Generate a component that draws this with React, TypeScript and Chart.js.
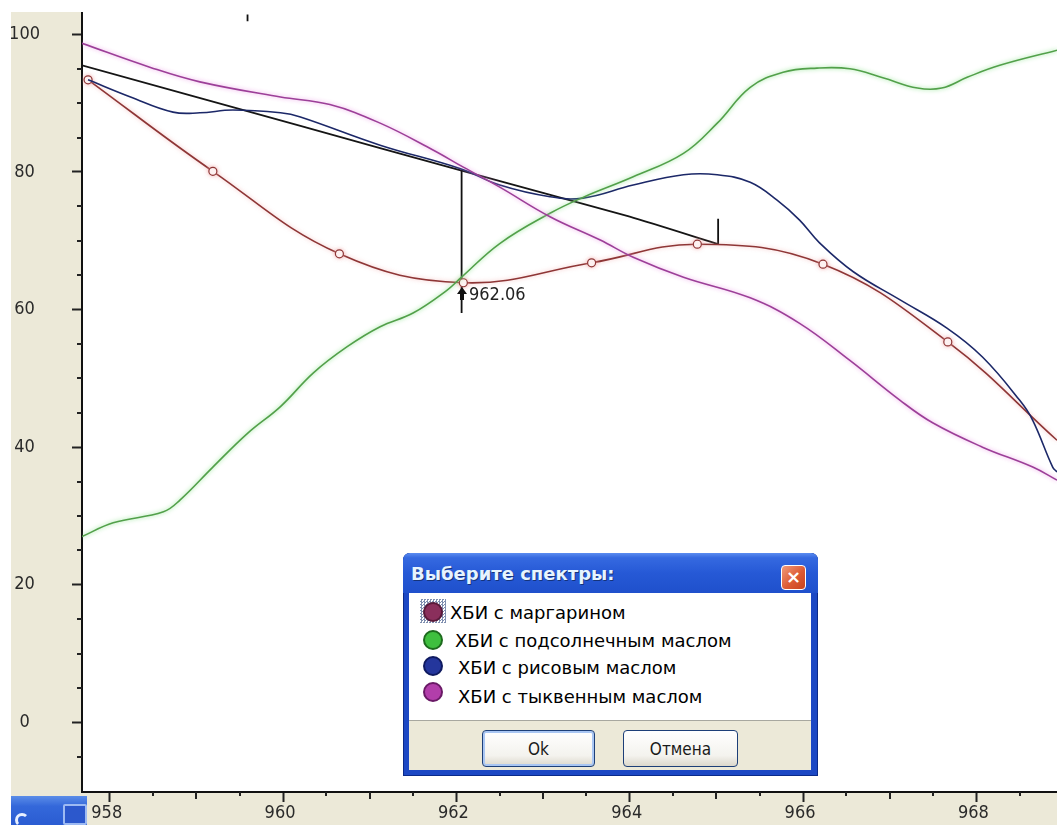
import React, { useEffect, useRef } from "react";
import { Chart, registerables } from "chart.js";

Chart.register(...registerables);

// ---------- axis ranges & ticks ----------
const xMin = 957.68;
const xMax = 968.93;
const yMin = -10.13;
const yMax = 105.0;
const xMajorTicks = [958, 960, 962, 964, 966, 968];
const xMinorTicks = [958.5, 959, 959.5, 960.5, 961, 961.5, 962.5, 963, 963.5, 964.5, 965, 965.5, 966.5, 967, 967.5, 968.5];
const yMajorTicks = [0, 20, 40, 60, 80, 100];
const yMinorTicks = [-5, 5, 10, 15, 25, 30, 35, 45, 50, 55, 65, 70, 75, 85, 90, 95];

// ---------- series ----------
const seriesNames = [
  "ХБИ с маргарином",
  "ХБИ с подсолнечным маслом",
  "ХБИ с рисовым маслом",
  "ХБИ с тыквенным маслом",
];

const margarineX = [957.75, 959.19, 960.65, 962.08, 963.56, 964.78, 966.23, 967.67, 968.93];
const margarineY = [93.4, 80.1, 68.1, 63.9, 66.8, 69.5, 66.6, 55.3, 41.0];

const sunflowerX = [957.68, 958.04, 958.62, 958.81, 959.19, 959.59, 959.97, 960.35, 960.74, 961.12, 961.5, 961.89, 962.05, 962.5, 963.08, 963.46, 964.04, 964.62, 965.01, 965.39, 965.77, 966.16, 966.54, 966.92, 967.32, 967.6, 967.9, 968.27, 968.93];
const sunflowerY = [27.0, 29.0, 30.6, 32.3, 37.1, 42.0, 45.9, 50.8, 54.6, 57.5, 59.5, 62.8, 64.6, 69.6, 74.0, 76.3, 79.3, 82.7, 87.1, 92.3, 94.5, 95.1, 95.0, 93.7, 92.2, 92.2, 93.8, 95.5, 97.7];

const riceX = [957.75, 958.24, 958.73, 959.04, 959.42, 959.97, 960.2, 961.12, 962.04, 962.5, 963.08, 963.46, 964.04, 964.62, 965.01, 965.39, 965.7, 965.96, 966.19, 966.58, 967.12, 967.66, 968.07, 968.5, 968.65, 968.88, 968.93];
const riceY = [93.4, 90.9, 88.7, 88.6, 89.0, 88.6, 88.0, 83.9, 80.5, 78.1, 76.4, 76.2, 78.1, 79.6, 79.6, 78.5, 75.9, 73.0, 69.7, 65.5, 61.4, 57.3, 53.1, 46.8, 43.9, 37.1, 36.4];

const pumpkinX = [957.68, 958.47, 959.04, 959.97, 960.54, 961.12, 961.73, 962.08, 962.5, 963.08, 963.66, 964.04, 964.62, 965.39, 965.96, 966.54, 967.12, 967.5, 968.07, 968.65, 968.93];
const pumpkinY = [98.7, 95.2, 93.1, 90.9, 89.8, 87.1, 83.2, 80.7, 77.8, 73.5, 70.1, 67.6, 64.7, 61.7, 58.0, 52.6, 46.8, 43.5, 40.0, 37.1, 35.2];

// black guide line and cursor marks
const guideX = [957.68, 960.2, 962.06, 964.0, 965.02];
const guideY = [95.5, 86.7, 80.2, 73.5, 69.5];
const cursorX = [962.06, 962.06];
const cursorY = [80.2, 59.5];
const endMarkX = [965.02, 965.02];
const endMarkY = [73.2, 69.5];
const topMarkX = [959.59, 959.59];
const topMarkY = [102.9, 101.9];
const cursorLabel = "962.06";
const cursorLabelValue = 962.06;
const cursorLabelY = 62.1;

const tickFont = "'DejaVu Sans Condensed', 'Liberation Sans Narrow', 'DejaVu Sans', sans-serif";

const pts = (xs: number[], ys: number[]) => xs.map((x, i) => ({ x, y: ys[i] }));

const bgPlugin = {
  id: "bgPlugin",
  beforeDraw(chart: any) {
    const { ctx, chartArea: ca, width, height } = chart;
    ctx.save();
    ctx.fillStyle = "#ffffff";
    ctx.fillRect(0, 0, width, height);
    ctx.fillStyle = "#ece9d8";
    ctx.fillRect(11, 12, ca.left - 11, height - 12);
    ctx.fillRect(ca.left, ca.bottom, width - ca.left, height - ca.bottom);
    ctx.restore();
  },
  beforeDatasetDraw(chart: any, args: any) {
    const ds = chart.data.datasets[args.index];
    if (ds.glow) {
      chart.ctx.save();
      chart.ctx.shadowColor = ds.glow;
      chart.ctx.shadowBlur = 4;
    }
  },
  afterDatasetDraw(chart: any, args: any) {
    const ds = chart.data.datasets[args.index];
    if (ds.glow) chart.ctx.restore();
  },
  afterDraw(chart: any) {
    const { ctx, chartArea: ca } = chart;
    const xs = chart.scales.x;
    const ys = chart.scales.y;
    ctx.save();
    ctx.strokeStyle = "#222";
    ctx.lineWidth = 2;
    yMinorTicks.forEach((v) => {
      const py = Math.round(ys.getPixelForValue(v));
      ctx.beginPath();
      ctx.moveTo(ca.left - 5, py);
      ctx.lineTo(ca.left, py);
      ctx.stroke();
    });
    xMinorTicks.forEach((v) => {
      const px = Math.round(xs.getPixelForValue(v));
      const len = Number.isInteger(v) ? 7 : 4;
      ctx.beginPath();
      ctx.moveTo(px, ca.bottom);
      ctx.lineTo(px, ca.bottom + len);
      ctx.stroke();
    });
    // white corner above the axis
    ctx.fillStyle = "#ffffff";
    ctx.fillRect(0, 0, ca.left + 2, 12);
    // cursor icon + label
    const cx = Math.round(xs.getPixelForValue(cursorLabelValue));
    const cy = ys.getPixelForValue(cursorLabelY);
    const top = cy - 8;
    ctx.fillStyle = "#111";
    ctx.beginPath();
    ctx.moveTo(cx, top);
    ctx.lineTo(cx - 5, top + 7);
    ctx.lineTo(cx - 2, top + 7);
    ctx.lineTo(cx - 2, top + 13);
    ctx.lineTo(cx + 2, top + 13);
    ctx.lineTo(cx + 2, top + 7);
    ctx.lineTo(cx + 5, top + 7);
    ctx.closePath();
    ctx.fill();
    ctx.font = `18px ${tickFont}`;
    ctx.fillStyle = "#222";
    ctx.textBaseline = "middle";
    ctx.textAlign = "left";
    ctx.fillText(cursorLabel, cx + 7, cy);
    ctx.restore();
  },
};

function ChartCanvas() {
  const ref = useRef<HTMLCanvasElement>(null);
  useEffect(() => {
    const lineBase = { pointRadius: 0, tension: 0.4, borderWidth: 1.6, fill: false };
    const chart = new Chart(ref.current as HTMLCanvasElement, {
      type: "line",
      data: {
        datasets: [
          {
            ...lineBase,
            label: seriesNames[3],
            data: pts(pumpkinX, pumpkinY),
            borderColor: "#9c3f98",
            glow: "rgba(235,150,230,0.9)",
          } as any,
          {
            ...lineBase,
            label: seriesNames[1],
            data: pts(sunflowerX, sunflowerY),
            borderColor: "#52a04a",
            glow: "rgba(130,225,130,0.9)",
          } as any,
          {
            ...lineBase,
            label: seriesNames[2],
            data: pts(riceX, riceY),
            borderColor: "#1c2868",
          } as any,
          {
            ...lineBase,
            label: seriesNames[0],
            data: pts(margarineX, margarineY),
            borderColor: "#8e3636",
            glow: "rgba(240,160,160,0.7)",
            pointRadius: (c: any) => (c.dataIndex < margarineX.length - 1 ? 4 : 0),
            pointBackgroundColor: "#ffffff",
            pointBorderColor: "#8e3636",
            pointBorderWidth: 1.2,
          } as any,
          {
            ...lineBase,
            label: "guide",
            data: pts(guideX, guideY),
            borderColor: "#151515",
            tension: 0.2,
            borderWidth: 1.8,
          } as any,
          { ...lineBase, label: "cursor", data: pts(cursorX, cursorY), borderColor: "#111", borderWidth: 1.8, tension: 0 } as any,
          { ...lineBase, label: "end", data: pts(endMarkX, endMarkY), borderColor: "#111", borderWidth: 1.8, tension: 0 } as any,
          { ...lineBase, label: "top", data: pts(topMarkX, topMarkY), borderColor: "#111", borderWidth: 1.8, tension: 0 } as any,
        ],
      },
      options: {
        responsive: false,
        animation: false,
        devicePixelRatio: 1,
        layout: { autoPadding: false, padding: { left: 11, top: 0, right: 0, bottom: 0 } },
        plugins: { legend: { display: false }, tooltip: { enabled: false } },
        events: [],
        scales: {
          x: {
            type: "linear",
            position: "bottom",
            min: xMin,
            max: xMax,
            afterBuildTicks: (s: any) => {
              s.ticks = xMajorTicks.map((v) => ({ value: v }));
            },
            afterFit: (s: any) => {
              s.height = 33;
              s.paddingLeft = 0;
              s.paddingRight = 0;
            },
            grid: { display: true, drawOnChartArea: false, drawTicks: true, tickLength: 10, tickWidth: 2, tickColor: "#222", color: "#222" },
            border: { display: true, color: "#111", width: 2 },
            ticks: {
              font: { family: tickFont, size: 18 },
              color: "#2a2a2a",
              padding: 1,
              labelOffset: -3,
              maxRotation: 0,
              autoSkip: false,
              callback: (v: any) => String(v),
            },
          },
          y: {
            type: "linear",
            position: "left",
            min: yMin,
            max: yMax,
            afterBuildTicks: (s: any) => {
              s.ticks = yMajorTicks.map((v) => ({ value: v }));
            },
            afterFit: (s: any) => {
              s.width = 71;
              s.paddingTop = 0;
              s.paddingBottom = 0;
            },
            grid: { display: true, drawOnChartArea: false, drawTicks: true, tickLength: 10, tickWidth: 2, tickColor: "#222", color: "#222" },
            border: { display: true, color: "#111", width: 2 },
            ticks: {
              font: { family: tickFont, size: 18 },
              color: "#2a2a2a",
              crossAlign: "center",
              padding: 32,
              autoSkip: false,
              callback: (v: any) => String(v),
            },
          },
        },
      } as any,
      plugins: [bgPlugin],
    });
    return () => chart.destroy();
  }, []);
  return (
    <canvas
      ref={ref}
      width={1057}
      height={825}
      style={{ position: "absolute", left: 0, top: 0, width: 1057, height: 825 }}
    />
  );
}

const legendColors = [
  { fill: "#8a2f5c", stroke: "#5a1a3a" },
  { fill: "#3fbf3f", stroke: "#1d6a1d" },
  { fill: "#24369c", stroke: "#0f1a60" },
  { fill: "#b23eaa", stroke: "#6a1a66" },
];
const legendIconY = [18.5, 47, 73, 99];
const legendTextY = [20, 48, 75, 104];
const legendTextX = [41, 46, 49, 49];

function Dialog() {
  const btn: React.CSSProperties = {
    position: "absolute",
    top: 137,
    height: 37,
    boxSizing: "border-box",
    border: "1px solid #1d3f78",
    borderRadius: 4,
    background: "linear-gradient(#ffffff, #f4f3ee 70%, #dcd8cc)",
    fontFamily: tickFont,
    fontSize: 17,
    color: "#1a1a1a",
    display: "flex",
    alignItems: "center",
    justifyContent: "center",
  };
  return (
    <div
      style={{
        position: "absolute",
        left: 403,
        top: 553,
        width: 415,
        height: 223,
        background: "#1c48c4",
        borderRadius: "7px 7px 0 0",
        boxShadow: "inset 0 0 0 1px #0b2a8a",
      }}
    >
      <div
        style={{
          position: "absolute",
          left: 0,
          top: 0,
          width: 415,
          height: 40,
          borderRadius: "7px 7px 0 0",
          background: "linear-gradient(#5b8cf0 0%, #3569e0 12%, #2659d6 50%, #1f50cc 100%)",
        }}
      />
      <div
        style={{
          position: "absolute",
          left: 8,
          top: 9,
          fontFamily: "'DejaVu Sans', sans-serif",
          fontWeight: "bold",
          fontSize: 18,
          color: "#e6f4ff",
          textShadow: "1px 1px 0 #15337a",
          whiteSpace: "nowrap",
          lineHeight: "24px",
        }}
      >
        Выберите спектры:
      </div>
      <div
        style={{
          position: "absolute",
          left: 378,
          top: 12,
          width: 25,
          height: 25,
          boxSizing: "border-box",
          border: "1px solid #ffffff",
          borderRadius: 4,
          background: "linear-gradient(135deg, #f09a7a, #dd5a34 55%, #c8431e)",
          color: "#fff",
          fontFamily: "'DejaVu Sans', sans-serif",
          fontWeight: "bold",
          fontSize: 18,
          lineHeight: "22px",
          textAlign: "center",
        }}
      >
        ×
      </div>
      <div
        style={{
          position: "absolute",
          left: 6,
          top: 40,
          width: 402,
          height: 177,
          background: "#ece9d8",
        }}
      >
        <div
          style={{
            position: "absolute",
            left: 0,
            top: 0,
            width: 402,
            height: 128,
            background: "#ffffff",
            borderBottom: "1px solid #a8a8a0",
            boxSizing: "border-box",
          }}
        >
          <div
            style={{
              position: "absolute",
              left: 11,
              top: 6,
              width: 26,
              height: 24,
              background: "repeating-conic-gradient(#7f8fb0 0 25%, #ffffff 0 50%) 0 0 / 3px 3px",
            }}
          />
          {seriesNames.map((name, i) => (
            <React.Fragment key={name}>
              <div
                style={{
                  position: "absolute",
                  left: 14,
                  top: legendIconY[i] - 10,
                  width: 20,
                  height: 20,
                  boxSizing: "border-box",
                  borderRadius: "50%",
                  background: legendColors[i].fill,
                  border: `2px solid ${legendColors[i].stroke}`,
                }}
              />
              <div
                style={{
                  position: "absolute",
                  left: legendTextX[i],
                  top: legendTextY[i] - 12,
                  height: 24,
                  lineHeight: "24px",
                  fontFamily: "'DejaVu Sans', sans-serif",
                  fontSize: 18,
                  color: "#000",
                  whiteSpace: "nowrap",
                }}
              >
                {name}
              </div>
            </React.Fragment>
          ))}
        </div>
        <div style={{ ...btn, left: 73, width: 113, boxShadow: "inset 0 0 0 2px #a9c6f3" }}>Ok</div>
        <div style={{ ...btn, left: 214, width: 115 }}>Отмена</div>
      </div>
    </div>
  );
}

function Taskbar() {
  return (
    <div
      style={{
        position: "absolute",
        left: 11,
        top: 796,
        width: 76,
        height: 29,
        background: "linear-gradient(#5b8de8, #3468da 35%, #2a5cd2)",
      }}
    >
      <div
        style={{
          position: "absolute",
          left: 4,
          top: 17,
          width: 14,
          height: 14,
          borderRadius: "50%",
          border: "3px solid #e8f0ff",
          borderRightColor: "transparent",
          borderBottomColor: "transparent",
          boxSizing: "border-box",
        }}
      />
      <div
        style={{
          position: "absolute",
          left: 52,
          top: 8,
          width: 24,
          height: 21,
          boxSizing: "border-box",
          border: "2px solid #9dbaf2",
          borderRadius: 2,
          background: "#2c58cc",
        }}
      />
    </div>
  );
}

export default function App() {
  return (
    <div
      style={{
        position: "fixed",
        left: 0,
        top: 0,
        width: 1057,
        height: 825,
        overflow: "hidden",
        background: "#ffffff",
      }}
    >
      <ChartCanvas />
      <Taskbar />
      <Dialog />
    </div>
  );
}
